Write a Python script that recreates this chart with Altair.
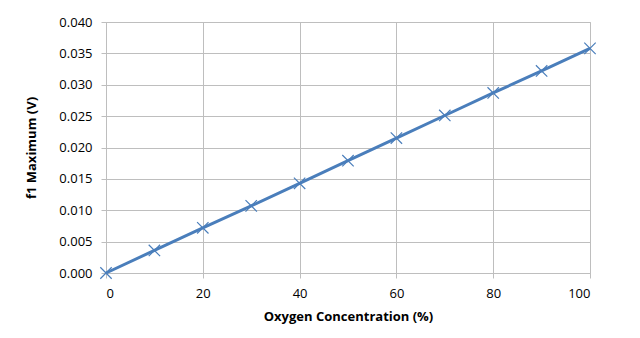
import altair as alt
import pandas as pd

oxygen = [0, 10, 20, 30, 40, 50, 60, 70, 80, 90, 100]
f1_max = [0.0000, 0.0036, 0.0072, 0.0107, 0.0143, 0.0179, 0.0215, 0.0251, 0.0287, 0.0322, 0.0358]

df = pd.DataFrame({"oxygen": oxygen, "f1": f1_max})

FONT = "Open Sans"
color = "#4A7EBB"

x = alt.X("oxygen:Q", scale=alt.Scale(domain=[0, 100], nice=False),
          axis=alt.Axis(values=[0, 20, 40, 60, 80, 100], title="Oxygen Concentration (%)",
                        titleFontWeight="bold", titlePadding=10, labelPadding=9))
y = alt.Y("f1:Q", scale=alt.Scale(domain=[0, 0.04], nice=False),
          axis=alt.Axis(values=[0, 0.005, 0.01, 0.015, 0.02, 0.025, 0.03, 0.035, 0.04],
                        format=".3f", title="f1 Maximum (V)", titleFontWeight="bold",
                        titlePadding=20, labelPadding=9))

line = alt.Chart(df).mark_line(color=color, strokeWidth=3).encode(x=x, y=y)
pts = alt.Chart(df).mark_point(shape="M-1,-1L1,1M1,-1L-1,1", size=130, filled=False,
                               color=color, strokeWidth=1.2, opacity=1).encode(x=x, y=y)

chart = (line + pts).properties(
    width=484, height=251,
    autosize=alt.AutoSizeParams(type="none"),
    padding={"left": 106, "top": 22, "right": 50, "bottom": 65},
    background="white",
).configure_axis(
    labelFont=FONT, titleFont=FONT, labelFontSize=13, titleFontSize=13,
    labelColor="#000000", titleColor="#000000",
    gridColor="#BEBEBE", domainColor="#BEBEBE", tickColor="#BEBEBE",
    tickSize=5, gridWidth=1, domainWidth=1,
).configure_view(stroke="#BEBEBE")

chart.save("out.html", embed_options={"renderer": "svg", "actions": False})
